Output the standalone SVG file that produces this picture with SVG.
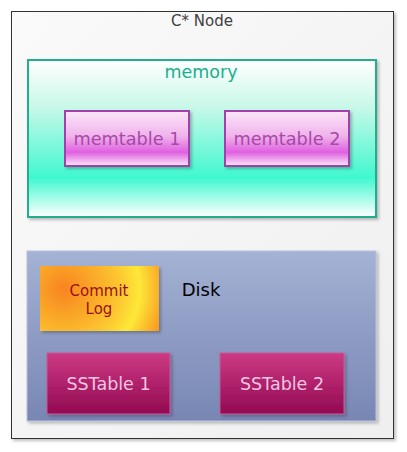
<svg xmlns="http://www.w3.org/2000/svg" width="407" height="452" viewBox="0 0 407 452">
<defs>
<linearGradient id="gOuter" x1="0" y1="0" x2="1" y2="1"><stop offset="0" stop-color="#fafafa"/><stop offset="1" stop-color="#efefef"/></linearGradient>
<linearGradient id="gMem" x1="0" y1="0" x2="0" y2="1"><stop offset="0" stop-color="#ffffff"/><stop offset="0.3" stop-color="#c8f8e8"/><stop offset="0.75" stop-color="#40f8d0"/><stop offset="1" stop-color="#ffffff"/></linearGradient>
<linearGradient id="gMt" x1="0" y1="0" x2="0" y2="1"><stop offset="0" stop-color="#fbe6f8"/><stop offset="0.45" stop-color="#f0b4ec"/><stop offset="0.75" stop-color="#e060e0"/><stop offset="1" stop-color="#fce8fa"/></linearGradient>
<linearGradient id="gDisk" x1="0" y1="0" x2="0" y2="1"><stop offset="0" stop-color="#a4b2d4"/><stop offset="1" stop-color="#7886b4"/></linearGradient>
<radialGradient id="gLog" cx="0.2" cy="0.35" r="0.85" gradientTransform="translate(0.2,0.35) scale(1,1.8) translate(-0.2,-0.35)"><stop offset="0" stop-color="#f88420"/><stop offset="0.55" stop-color="#fcc630"/><stop offset="0.75" stop-color="#fde838"/><stop offset="1" stop-color="#fa9e24"/></radialGradient>
<linearGradient id="gSS" x1="0" y1="0" x2="0" y2="1"><stop offset="0" stop-color="#cc3a84"/><stop offset="1" stop-color="#920a52"/></linearGradient>
<filter id="sh" x="-10%" y="-10%" width="125%" height="125%"><feDropShadow dx="2" dy="2" stdDeviation="1.5" flood-color="#000" flood-opacity="0.25"/></filter>
</defs>
<style>
text{font-family:"DejaVu Sans",Verdana,sans-serif;text-anchor:middle}
.mt{fill:url(#gMt);stroke:#a040a8;stroke-width:2}
.mtt{font-size:17.7px;fill:#a848a8}
.ss{fill:url(#gSS);stroke:#c85a98;stroke-width:1}
.sst{font-size:17.5px;fill:#f4c4e4}
</style>
<g id="node">
<rect x="11.5" y="11.5" width="382" height="427" fill="url(#gOuter)" stroke="#333" stroke-width="1" filter="url(#sh)"/>
<text x="202" y="26" font-size="15" fill="#404040">C* Node</text>
</g>
<g id="memory">
<rect x="28" y="60" width="348" height="157" fill="url(#gMem)" stroke="#20ae8c" stroke-width="2" filter="url(#sh)"/>
<text x="201" y="78" font-size="17.5" fill="#20ae8c">memory</text>
</g>
<g id="memtable1">
<rect class="mt" x="65" y="111" width="124" height="55" filter="url(#sh)"/>
<text class="mtt" x="127" y="145">memtable 1</text>
</g>
<g id="memtable2">
<rect class="mt" x="225" y="111" width="124" height="55" filter="url(#sh)"/>
<text class="mtt" x="287" y="145">memtable 2</text>
</g>
<g id="disk">
<rect x="27" y="251" width="349" height="170" fill="url(#gDisk)" stroke="#b8c2dc" stroke-width="1" filter="url(#sh)"/>
<text x="201" y="296" font-size="18" fill="#000">Disk</text>
</g>
<g id="commitlog">
<rect x="40" y="266" width="119" height="65" fill="url(#gLog)" filter="url(#sh)"/>
<text x="99" y="296" font-size="15" fill="#9a1010">Commit</text>
<text x="99" y="314" font-size="15" fill="#9a1010">Log</text>
</g>
<g id="sstable1">
<rect class="ss" x="47" y="353" width="123" height="61" filter="url(#sh)"/>
<text class="sst" x="108.5" y="390">SSTable 1</text>
</g>
<g id="sstable2">
<rect class="ss" x="220" y="353" width="124" height="61" filter="url(#sh)"/>
<text class="sst" x="282" y="390">SSTable 2</text>
</g>
<g id="connectors"/>
</svg>
